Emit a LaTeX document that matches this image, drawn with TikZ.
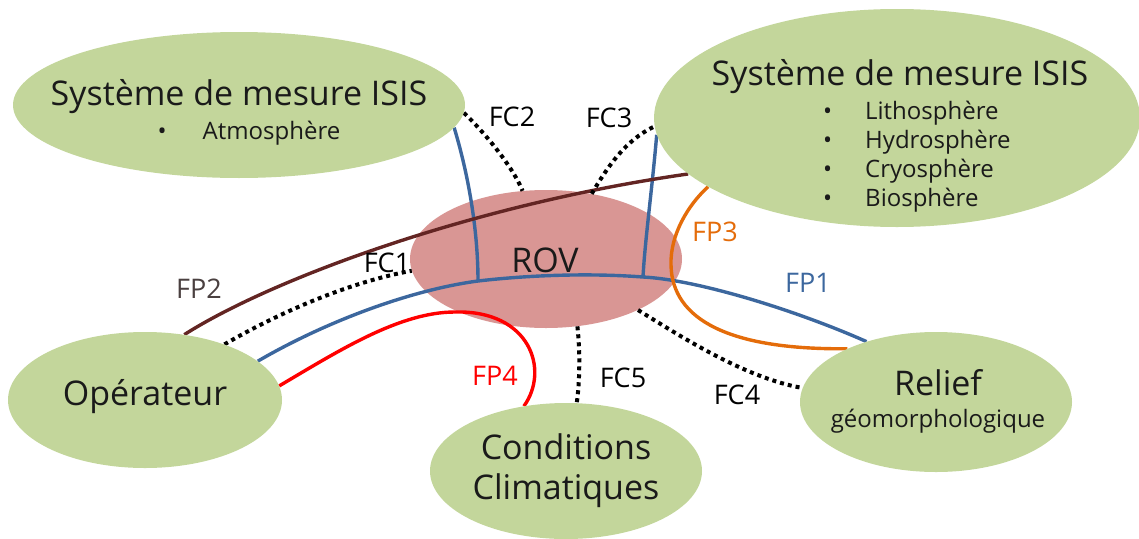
\documentclass[tikz,border=0pt]{standalone}
\usepackage{fontspec}
\setmainfont{Open Sans}
\usetikzlibrary{shapes.geometric}
\definecolor{envgreen}{HTML}{C3D69B}
\definecolor{rovred}{HTML}{D99694}
\definecolor{fpblue}{HTML}{3C679E}
\definecolor{fpbrown}{HTML}{632523}
\definecolor{fporange}{HTML}{E46C0A}
\definecolor{fpred}{HTML}{FF0000}
\definecolor{txtc}{HTML}{1A1A1A}
\definecolor{fptwo}{HTML}{4A4040}
\pgfdeclarelayer{back}
\pgfdeclarelayer{mid}
\pgfsetlayers{back,mid,main}
\begin{document}
\begin{tikzpicture}[x=1pt,y=-1pt,
  env/.style={ellipse, fill=envgreen, inner sep=0pt},
  big/.style={inner sep=0pt, text=txtc, font=\fontsize{34}{40}\selectfont},
  small/.style={inner sep=0pt, text=txtc, font=\fontsize{24}{29}\selectfont},
  lbl/.style={inner sep=0pt, font=\fontsize{27}{30}\selectfont},
  dots/.style={line width=4pt, dash pattern=on 4pt off 4pt, black},
  flow/.style={line width=3.4pt},
]
\useasboundingbox (0,0) rectangle (1139,538);
% environment ellipses
\node[env, minimum width=452pt, minimum height=146pt] (atm) at (239,105) {};
\node[env, minimum width=486pt, minimum height=218pt] (hyd) at (897,118) {};
\node[env, minimum width=274pt, minimum height=136pt] (ope) at (145,400) {};
\node[env, minimum width=272pt, minimum height=136pt] (clim) at (566,471) {};
\node[env, minimum width=272pt, minimum height=140pt] (rel) at (936,402) {};
\begin{pgfonlayer}{back}
\node[ellipse, fill=rovred, inner sep=0pt, minimum width=272pt, minimum height=138pt] (rov) at (546,259) {};
\end{pgfonlayer}
% texts
\node[big] (atmT) at (239,97) {Système de mesure ISIS};
\node[small] (atmL) at (249,133) {\makebox[45pt][l]{•}Atmosphère};
\node[big] (hydT) at (900,77) {Système de mesure ISIS};
\node[small, align=left, anchor=west] (hydL) at (823,157) {\makebox[42pt][l]{•}Lithosphère\\\makebox[42pt][l]{•}Hydrosphère\\\makebox[42pt][l]{•}Cryosphère\\\makebox[42pt][l]{•}Biosphère};
\node[big] (rovT) at (545,260) {ROV};
\node[big] (opeT) at (145,397) {Opérateur};
\node[big, align=center] (climT) at (566,471) {Conditions\\Climatiques};
\node[big] (relT) at (938,383) {Relief};
\node[small] (relS) at (938,421) {géomorphologique};
% connectors
\begin{pgfonlayer}{mid}
\coordinate (j1) at (478,281);
\coordinate (j2) at (643,277);
% FP1 (blue)
\draw[flow, fpblue] (ope.19) .. controls (325,322) and (410,290) .. (j1)
   .. controls (530,275) and (590,273) .. (j2)
   .. controls (700,280) and (800,312) .. (rel.139);
\draw[flow, fpblue] (atm.-6.8) .. controls (470,180) and (478,235) .. (j1);
\draw[flow, fpblue] (hyd.184.5) .. controls (652,190) and (645,240) .. (j2);
% FP2 (brown)
\draw[flow, fpbrown] (ope.59) .. controls (270,280) and (470,205) .. (hyd.195.6);
% FP3 (orange)
\draw[flow, fporange] (hyd.200) .. controls (688,205) and (670,235) .. (671,265)
   .. controls (672,320) and (730,350) .. (rel.149);
% FP4 (red)
\draw[flow, fpred] (ope.6.3) .. controls (340,350) and (400,312) .. (455,312)
   .. controls (530,310) and (550,370) .. (clim.123);
% FC dotted
\draw[dots] (ope.35) .. controls (280,312) and (350,282) .. (rov.185);
\draw[dots] (atm.-2.6) .. controls (482,130) and (512,165) .. (rov.109);
\draw[dots] (rov.55) .. controls (607,168) and (625,140) .. (hyd.182);
\draw[dots] (rov.-29) .. controls (680,336) and (745,378) .. (rel.174);
\draw[dots] (rov.-65) .. controls (580,350) and (580,380) .. (clim.81);
\end{pgfonlayer}
% labels
\node[lbl] (fc1) at (387,263) {FC1};
\node[lbl] (fc2) at (512,117) {FC2};
\node[lbl] (fc3) at (609,118) {FC3};
\node[lbl] (fc4) at (737,395) {FC4};
\node[lbl] (fc5) at (623,378) {FC5};
\node[lbl, text=fpblue] (fp1) at (808,283) {FP1};
\node[lbl, text=fptwo] (fp2) at (199,289) {FP2};
\node[lbl, text=fporange] (fp3) at (715,232) {FP3};
\node[lbl, text=fpred] (fp4) at (495,376) {FP4};
\end{tikzpicture}
\end{document}
